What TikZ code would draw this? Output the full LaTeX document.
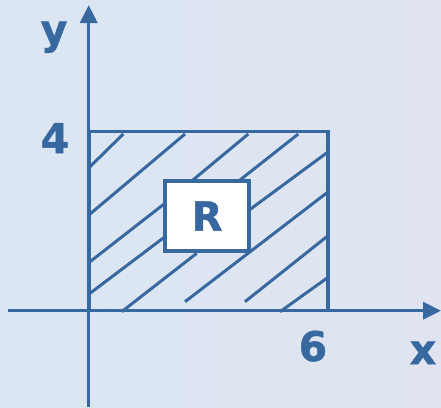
\documentclass[tikz,border=0pt]{standalone}
\usepackage{fontspec}
\setmainfont{DejaVu Sans}
\newfontfamily\heavyfont{DejaVu Sans Bold}[FakeBold=1.2]
\usetikzlibrary{arrows.meta}
\definecolor{ink}{RGB}{56,104,160}
\definecolor{bgA}{RGB}{218,230,242}
\definecolor{bgM}{RGB}{231,238,246}
\definecolor{bgB}{RGB}{224,228,241}
\tikzset{
  axis/.style={draw=ink,line width=3.4bp,-{Triangle[length=18bp,width=17bp]}},
  hatch/.style={draw=ink,line width=3bp},
  region/.style={draw=ink,line width=3.3bp},
  lbl/.style={text=ink,font=\heavyfont\fontsize{41}{41}\selectfont,inner sep=0pt},
}
\begin{document}
\begin{tikzpicture}[x=1bp,y=-1bp]
\useasboundingbox (0,0) rectangle (441,407);
\shade[left color=bgA,middle color=bgM,right color=bgB] (0,0) rectangle (441,407);
% coordinates
\coordinate (xs) at (8,310.7);
\coordinate (xe) at (441,310.7);
\coordinate (ys) at (88.7,407);
\coordinate (ye) at (88.7,5);
\coordinate (rtl) at (89,131.7);
\coordinate (rbr) at (328,310.7);
% hatching
\draw[hatch] (90,166.7) -- (123.3,134);
\draw[hatch] (90,214) -- (185,134);
\draw[hatch] (90,261.7) -- (165,203.3);
\draw[hatch] (191.7,181) -- (248.3,134);
\draw[hatch] (90,293.3) -- (165,236.7);
\draw[hatch] (238.7,181) -- (298.3,134);
\draw[hatch] (121.7,311.7) -- (196.7,253.3);
\draw[hatch] (248.3,210.7) -- (328.3,151.7);
\draw[hatch] (185,301.7) -- (328.3,191.7);
\draw[hatch] (245,301.7) -- (326.7,236.7);
\draw[hatch] (280,311.7) -- (326.7,278.3);
% region outline
\draw[region] (rtl) rectangle (rbr);
% axes
\draw[axis] (xs) -- (xe);
\draw[axis] (ys) -- (ye);
% R box
\node[draw=ink,line width=3.3bp,fill=white,minimum width=84bp,minimum height=70bp,inner sep=0pt,
  text=ink,font=\heavyfont\fontsize{40}{40}\selectfont] (R) at (207,216) {R};
% labels
\node[lbl,anchor=base] (ly) at (54,44) {y};
\node[lbl,anchor=base] (l4) at (55,153) {4};
\node[lbl,anchor=base] (l6) at (313,361) {6};
\node[lbl,anchor=base] (lx) at (423,364) {x};
\end{tikzpicture}
\end{document}
